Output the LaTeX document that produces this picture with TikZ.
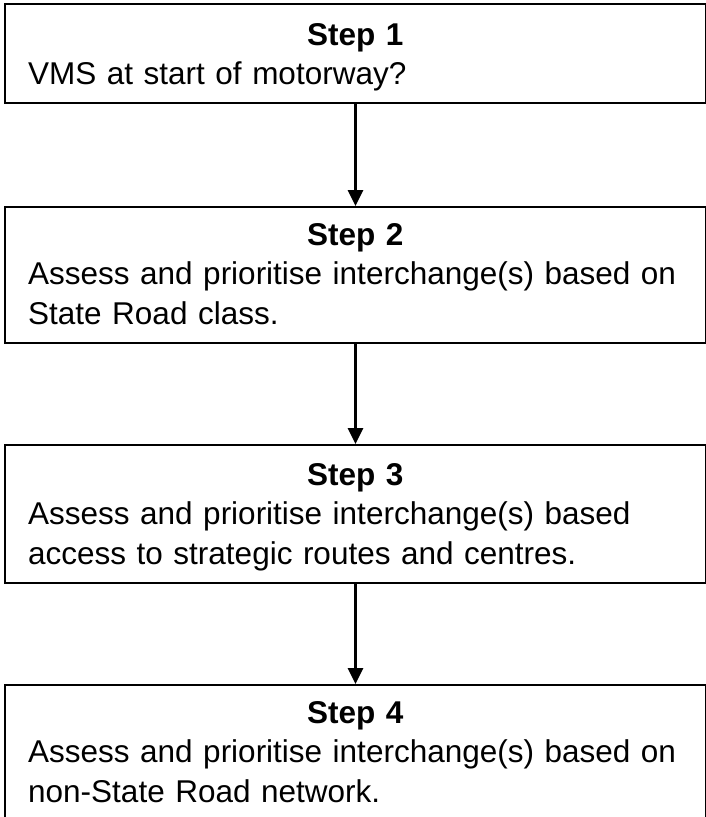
\documentclass[tikz,border=0pt]{standalone}
\usepackage{fontspec}
\setmainfont{Liberation Sans}
\usetikzlibrary{arrows.meta}

\tikzset{
stepbox/.style={draw,line width=2pt,inner sep=0pt,minimum width=701pt,anchor=north west},
steptext/.style={anchor=base west,text width=654pt,align=left,inner sep=0pt,font=\fontsize{31.5}{39.5}\selectfont},
flow/.style={line width=3pt,-{Triangle[width=15pt,length=16pt]}}
}

\begin{document}
\begin{tikzpicture}[x=1pt,y=1pt]
\useasboundingbox (0,0) rectangle (706,-817);
% boxes
\node[stepbox,minimum height=99pt] (s1) at (4,-3) {};
\node[stepbox,minimum height=136pt] (s2) at (4,-206) {};
\node[stepbox,minimum height=138pt] (s3) at (4,-444) {};
\node[stepbox,minimum height=136pt] (s4) at (4,-684) {};
% texts
\node[steptext] (t1) at (28,-45) {\makebox[\linewidth]{\bfseries Step 1}\\
VMS at start of motorway?};
\node[steptext] (t2) at (28,-245) {\makebox[\linewidth]{\bfseries Step 2}\\
Assess and prioritise interchange(s) based on\\
State Road class.};
\node[steptext] (t3) at (28,-485) {\makebox[\linewidth]{\bfseries Step 3}\\
Assess and prioritise interchange(s) based\\
access to strategic routes and centres.};
\node[steptext] (t4) at (28,-723) {\makebox[\linewidth]{\bfseries Step 4}\\
Assess and prioritise interchange(s) based on\\
non-State Road network.};
% arrows
\foreach \a/\b in {s1/s2,s2/s3,s3/s4}
\draw[flow] (\a.south) -- (\b.north);
\end{tikzpicture}
\end{document}
